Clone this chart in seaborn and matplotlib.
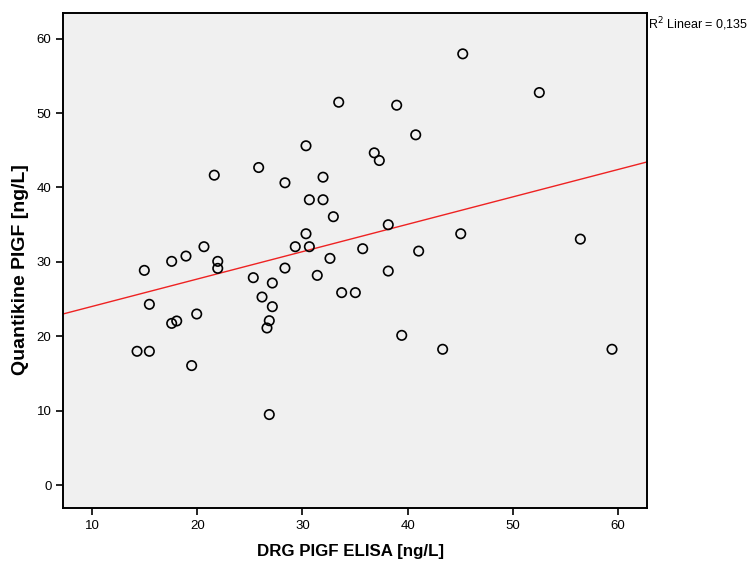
import numpy as np
import pandas as pd
import matplotlib
matplotlib.use("Agg")
import matplotlib.pyplot as plt
import seaborn as sns

drg = [33.45, 30.34, 21.62, 25.84, 28.34, 31.96, 30.66, 31.96, 32.94, 30.34,
       29.32, 30.66, 20.64, 18.93, 17.57, 21.95, 21.95, 32.62, 35.73, 45.24,
       52.52, 38.96, 40.77, 36.83, 37.31, 38.16, 45.05, 41.05, 56.42, 14.97,
       25.33, 27.14, 28.34, 31.41, 33.73, 35.03, 15.45, 19.95, 17.57, 18.05,
       26.16, 27.14, 26.85, 26.63, 14.28, 15.45, 19.47, 26.85, 38.16, 39.44,
       43.33, 59.43]
quant = [51.45, 45.60, 41.65, 42.68, 40.63, 41.38, 38.35, 38.35, 36.07, 33.78,
         32.04, 32.04, 32.04, 30.78, 30.07, 30.07, 29.13, 30.47, 31.77, 57.95,
         52.75, 51.05, 47.07, 44.65, 43.62, 34.99, 33.78, 31.45, 33.06, 28.86,
         27.88, 27.16, 29.17, 28.19, 25.87, 25.87, 24.30, 23.00, 21.74, 22.06,
         25.28, 23.98, 22.10, 21.12, 17.99, 17.99, 16.07, 9.49, 28.77, 20.13,
         18.26, 18.26]
x_ticks = [10, 20, 30, 40, 50, 60]
y_ticks = [0, 10, 20, 30, 40, 50, 60]
r2_label = "R$^2$ Linear = 0,135"

df = pd.DataFrame({"x": drg, "y": quant})

sns.set_style("ticks")
plt.rcParams['font.family'] = ['Liberation Sans', 'DejaVu Sans']
plt.rcParams['text.color'] = 'black'
plt.rcParams['axes.labelcolor'] = 'black'

fig = plt.figure(figsize=(7.52, 5.65), dpi=100)
ax = fig.add_axes([0.0842, 0.1004, 0.7758, 0.8761])
ax.set_facecolor("#F0F0F0")
ax.set_xlim(7.27, 62.73)
ax.set_ylim(-3.1, 63.4)

sns.scatterplot(data=df, x="x", y="y", ax=ax, marker="o", s=46,
                facecolor="none", edgecolor="black", linewidth=1.2, zorder=3)
sns.regplot(data=df, x="x", y="y", ax=ax, scatter=False, ci=None, truncate=False,
            line_kws={"color": "#EE2222", "linewidth": 1.0, "zorder": 2})
ax.set_xlim(7.27, 62.73)
ax.set_ylim(-3.1, 63.4)

ax.set_xticks(x_ticks)
ax.set_yticks(y_ticks)
for sp in ax.spines.values():
    sp.set_visible(True)
    sp.set_linewidth(1.4)
    sp.set_color("black")
ax.tick_params(direction="out", length=5, width=1.2, labelsize=9.5, colors="black")
for lab in ax.get_xticklabels() + ax.get_yticklabels():
    lab.set_family(['Liberation Sans Narrow', 'Liberation Sans', 'DejaVu Sans'])

ax.set_xlabel("DRG PIGF ELISA [ng/L]", fontsize=12.2, fontweight="bold", color="black")
ax.xaxis.label.set_verticalalignment("center")
ax.xaxis.set_label_coords(0.493, -0.088)
ax.set_ylabel("Quantikine PIGF [ng/L]", fontsize=14, fontweight="bold", color="black")
ax.yaxis.label.set_verticalalignment("center")
ax.yaxis.set_label_coords(-0.0742, 0.483)

fig.text(648 / 752, 1 - 24 / 565, r2_label, fontsize=9, va="center", ha="left",
         color="black")

fig.savefig("out.png", dpi=100, facecolor="white")
